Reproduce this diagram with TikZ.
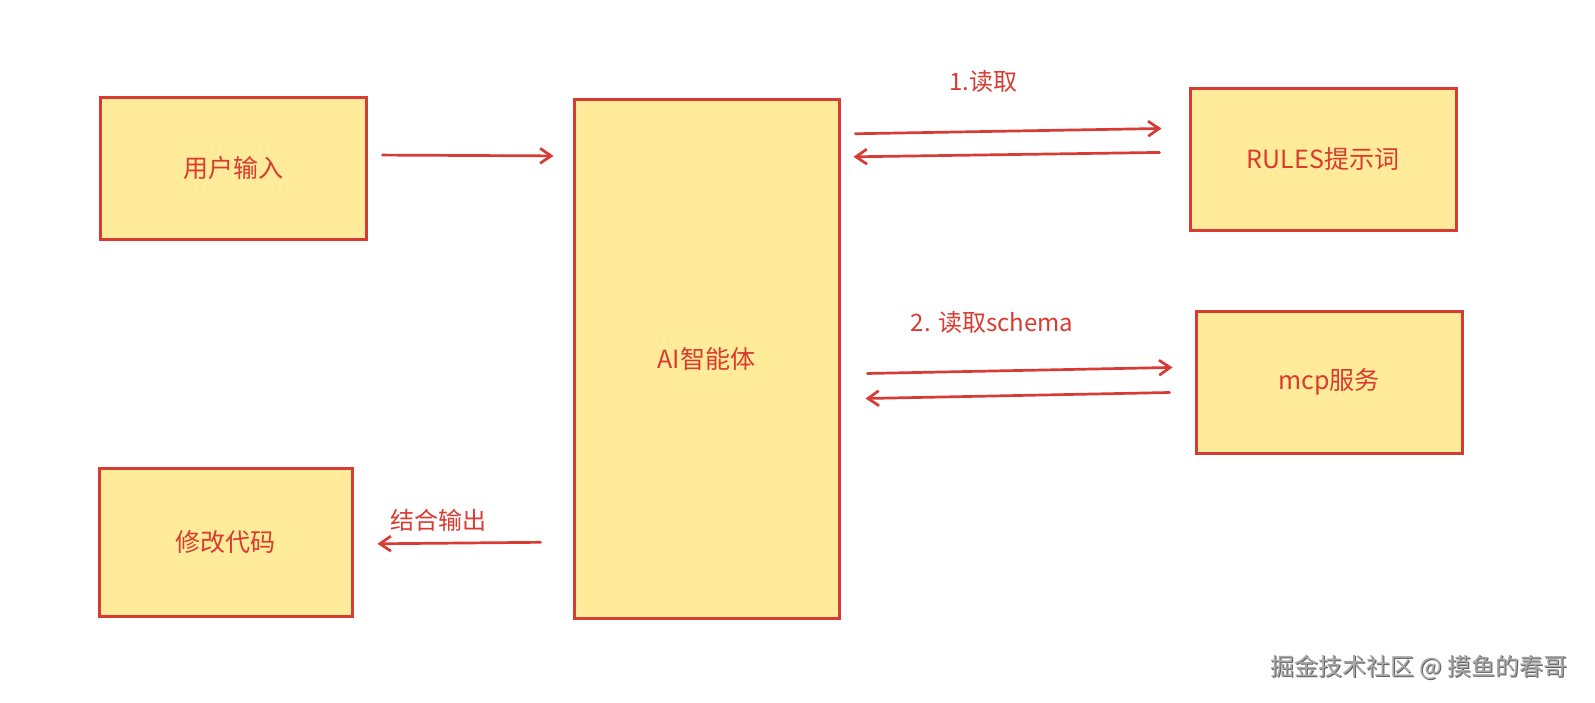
\documentclass[tikz,border=0pt]{standalone}
\usepackage{fontspec}
\setmainfont{Noto Sans CJK SC}
\usetikzlibrary{arrows.meta,calc}
\definecolor{boxfill}{HTML}{FFEB99}
\definecolor{boxline}{HTML}{D83A34}
\definecolor{txt}{HTML}{D93B31}
\definecolor{wmark}{HTML}{A8A8A8}
\definecolor{wshadow}{HTML}{606060}
\begin{document}
\begin{tikzpicture}[x=1pt,y=-1pt,
  box/.style={draw=boxline,fill=boxfill,line width=3pt,text=txt,
    font=\fontsize{25}{30}\selectfont,inner sep=0pt},
  arr/.style={draw=boxline,line width=2.7pt,line cap=round,
    -{Straight Barb[length=11pt,width=15pt,line width=2.7pt]}},
  lbl/.style={text=txt,font=\fontsize{24}{28}\selectfont,inner sep=0pt},
  wm/.style={font=\fontsize{24}{28}\selectfont,inner sep=0pt}]
\useasboundingbox[fill=white] (0,0) rectangle (1595,702);

\node[box,minimum width=266pt,minimum height=142pt] (user) at (233,168) {用户输入};
\node[box,minimum width=265pt,minimum height=519pt] (ai) at (706.5,358.5) {AI智能体};
\node[box,minimum width=266pt,minimum height=142pt] (rules) at (1323,159) {RULES提示词};
\node[box,minimum width=266pt,minimum height=142pt] (mcp) at (1329,382) {mcp服务};
\node[box,minimum width=253pt,minimum height=148pt] (code) at (225.5,542) {修改代码};

\node[lbl] (l1) at (983,81) {1.读取};
\node[lbl] (l2) at (992,322) {2. 读取schema};
\node[lbl] (l3) at (438,520) {结合输出};

\draw[arr,shorten <=15pt,shorten >=19pt] (user.east |- 0,155) -- (ai.west |- 0,156);
\draw[arr,shorten <=15pt,shorten >=27pt] (ai.east |- 0,134) -- (rules.west |- 0,128);
\draw[arr,shorten <=29pt,shorten >=13pt] (rules.west |- 0,152) -- (ai.east |- 0,157);
\draw[arr,shorten <=27pt,shorten >=22pt] (ai.east |- 0,374) -- (mcp.west |- 0,367);
\draw[arr,shorten <=25pt,shorten >=25pt] (mcp.west |- 0,392) -- (ai.east |- 0,399);
\draw[arr,shorten <=32pt,shorten >=24pt] (ai.west |- 0,542) -- (code.east |- 0,544);

\node[wm,text=wshadow] (wms) at (1420.2,668.2) {掘金技术社区 @ 摸鱼的春哥};
\node[wm,text=wmark] (wmt) at (1419,667) {掘金技术社区 @ 摸鱼的春哥};
\end{tikzpicture}
\end{document}
